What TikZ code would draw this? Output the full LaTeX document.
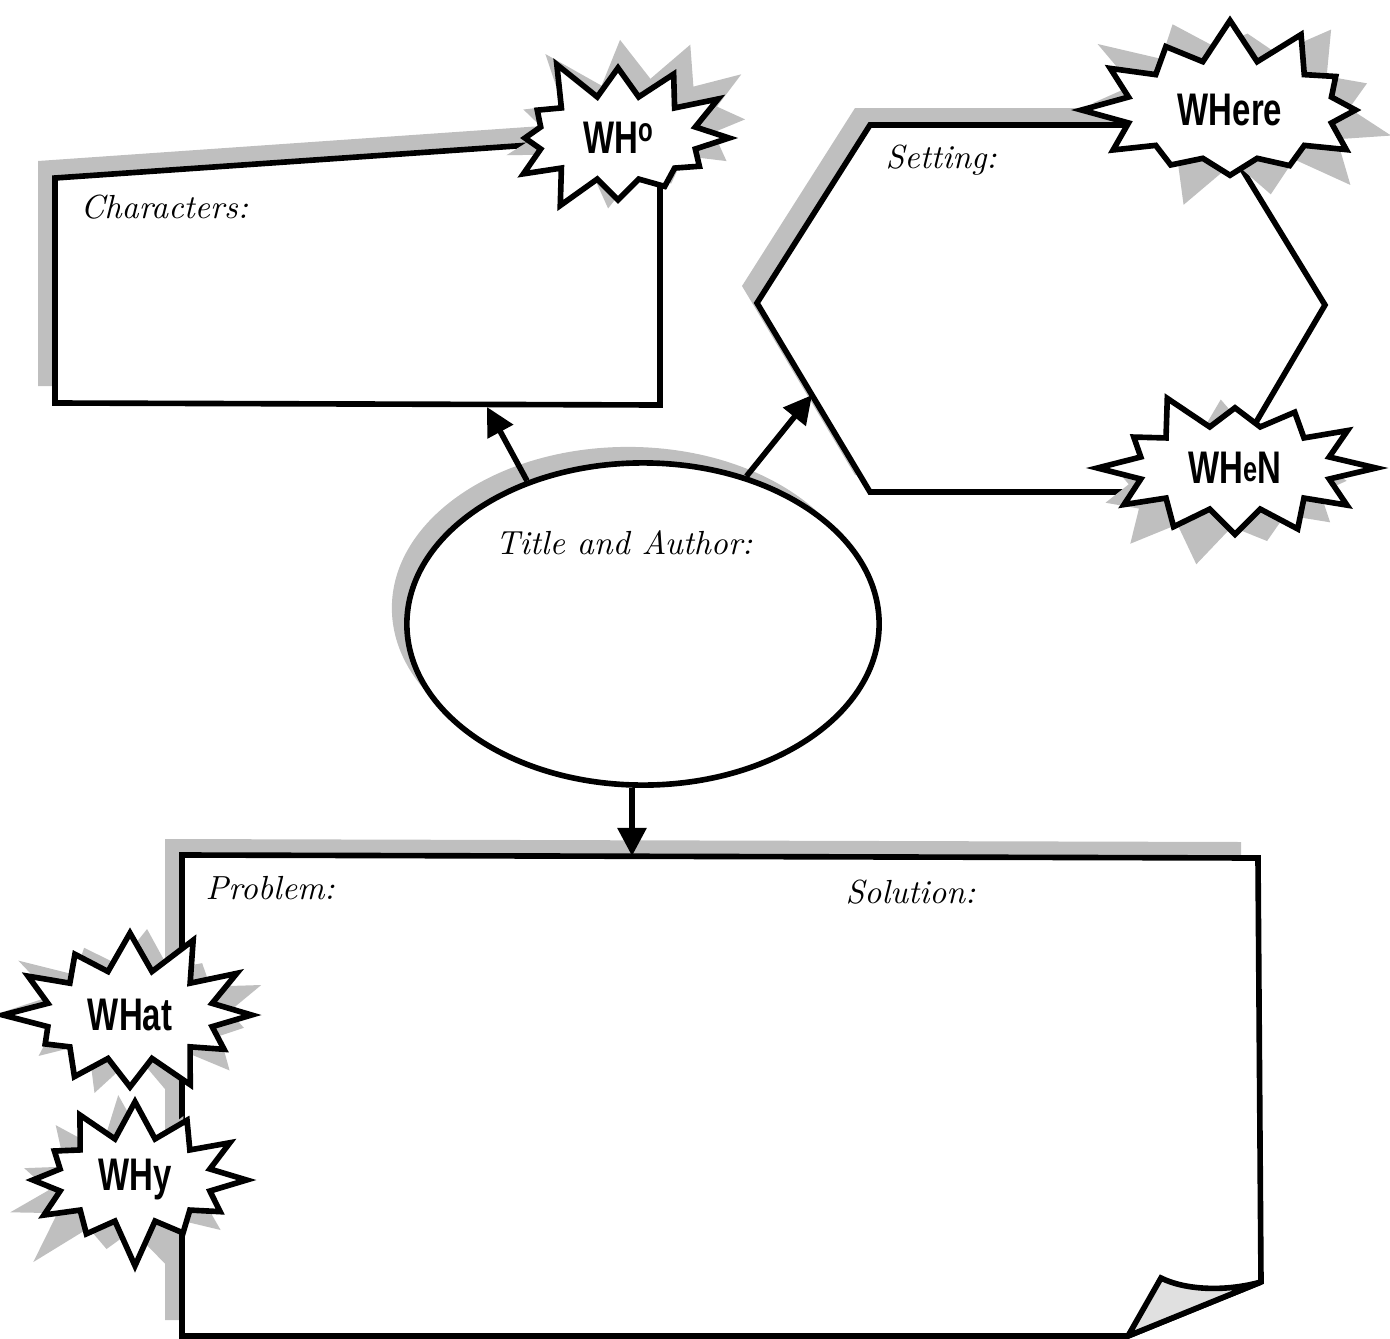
\documentclass[tikz,border=0pt]{standalone}
\usepackage{fontspec}
\usepackage{graphicx}
\newfontfamily\burstfont{Liberation Sans}
\usetikzlibrary{shapes.symbols,shapes.geometric,arrows.meta}
\tikzset{
 outline/.style={draw=black, line width=1.6pt, fill=white, line join=miter},
 shadowfill/.style={fill=black!25, draw=none},
 txtlabel/.style={font=\fontsize{9.5}{11}\selectfont\itshape, anchor=west, inner sep=0pt},
 burst/.style={starburst, draw=black, line width=1.6pt, fill=white, starburst point height=0.45cm, starburst points=12, inner sep=0pt},
 burstshadow/.style={starburst, fill=black!25, draw=none, starburst point height=0.55cm, starburst points=11, inner sep=0pt},
 burstlabel/.style={font=\burstfont\bfseries\fontsize{13}{15}\selectfont, inner sep=0pt},
 conn/.style={line width=1.6pt, -{Triangle[length=8pt,width=8pt]}},
}
\newcommand{\bw}[1]{\scalebox{0.72}[1]{#1}}
\begin{document}
\begin{tikzpicture}[x=0.01cm,y=-0.01cm]
\useasboundingbox (0,0) rectangle (1390,1339);

% shadows of main shapes
\fill[shadowfill, shift={(-17,-17)}] (55,178) -- (660,136) -- (660,405) -- (55,403) -- cycle;
\fill[shadowfill, shift={(-15,-17)}] (870,125) -- (1215,125) -- (1325,305) -- (1215,492) -- (870,492) -- (757,303) -- cycle;
\node[ellipse, shadowfill, minimum width=4.72cm, minimum height=3.22cm, inner sep=0pt] (titleshadow) at (628,608) {};
\fill[shadowfill, shift={(-17,-16)}] (182,855) -- (1258,858) -- (1261,1282) -- (1128,1336) -- (182,1336) -- cycle;

% main shapes
\draw[outline] (55,178) -- (660,136) -- (660,405) -- (55,403) -- cycle;
\draw[outline] (870,125) -- (1215,125) -- (1325,305) -- (1215,492) -- (870,492) -- (757,303) -- cycle;
\node[ellipse, outline, minimum width=4.72cm, minimum height=3.22cm, inner sep=0pt] (title) at (643,624) {};
\draw[outline] (182,855) -- (1258,858) -- (1261,1282) -- (1128,1336) -- (182,1336) -- cycle;
\draw[outline, fill=black!12] (1261,1282) .. controls (1225,1292) and (1185,1290) .. (1161,1278) -- (1128,1336) -- cycle;

% connector targets
\coordinate (charbot) at (487,407);
\coordinate (hexedge) at (812,395);
\coordinate (probtop) at (632,856);

\draw[conn] (title.129) -- (charbot);
\draw[conn] (title.55) -- (hexedge);
\draw[conn] (title.south -| probtop) -- (probtop);

% labels
\node[txtlabel] (lchar) at (80,207) {Characters:};
\node[txtlabel] (lset) at (885,160) {Setting:};
\node[txtlabel] (ltitle) at (495,543) {Title and Author:};
\node[txtlabel] (lprob) at (205,888) {Problem:};
\node[txtlabel] (lsol) at (845,892) {Solution:};

% bursts: shadows
\node[burstshadow, minimum width=2.85cm, minimum height=2.0cm, random starburst=11, rotate=8] (whos) at (632,125) {};
\node[burstshadow, minimum width=3.3cm, minimum height=2.25cm, random starburst=23, rotate=-6] (wheres) at (1240,105) {};
\node[burstshadow, minimum width=3.1cm, minimum height=2.0cm, random starburst=31, rotate=5] (whens) at (1228,482) {};
\node[burstshadow, minimum width=2.9cm, minimum height=2.0cm, random starburst=41, rotate=-5] (whats) at (140,1010) {};
\node[burstshadow, minimum width=2.7cm, minimum height=1.95cm, random starburst=53, rotate=6] (whys) at (128,1188) {};

% bursts
\node[burst, minimum width=2.5cm, minimum height=1.75cm, random starburst=5] (who) at (618,138) {};
\node[burst, minimum width=3.0cm, minimum height=1.9cm, random starburst=17] (where) at (1230,110) {};
\node[burst, minimum width=2.85cm, minimum height=1.75cm, random starburst=29] (when) at (1235,468) {};
\node[burst, minimum width=2.6cm, minimum height=1.8cm, random starburst=37] (what) at (130,1015) {};
\node[burst, minimum width=2.45cm, minimum height=1.75cm, random starburst=47] (why) at (135,1180) {};

\node[burstlabel] at (who) {\bw{WH\raisebox{0.5ex}{\fontsize{9.5}{12}\selectfont o}}};
\node[burstlabel] at (where) {\bw{WHere}};
\node[burstlabel] at (when) {\bw{WH\raisebox{0.1ex}{\fontsize{10}{12}\selectfont e}N}};
\node[burstlabel] at (what) {\bw{WHat}};
\node[burstlabel] at (why) {\bw{WHy}};
\end{tikzpicture}
\end{document}
